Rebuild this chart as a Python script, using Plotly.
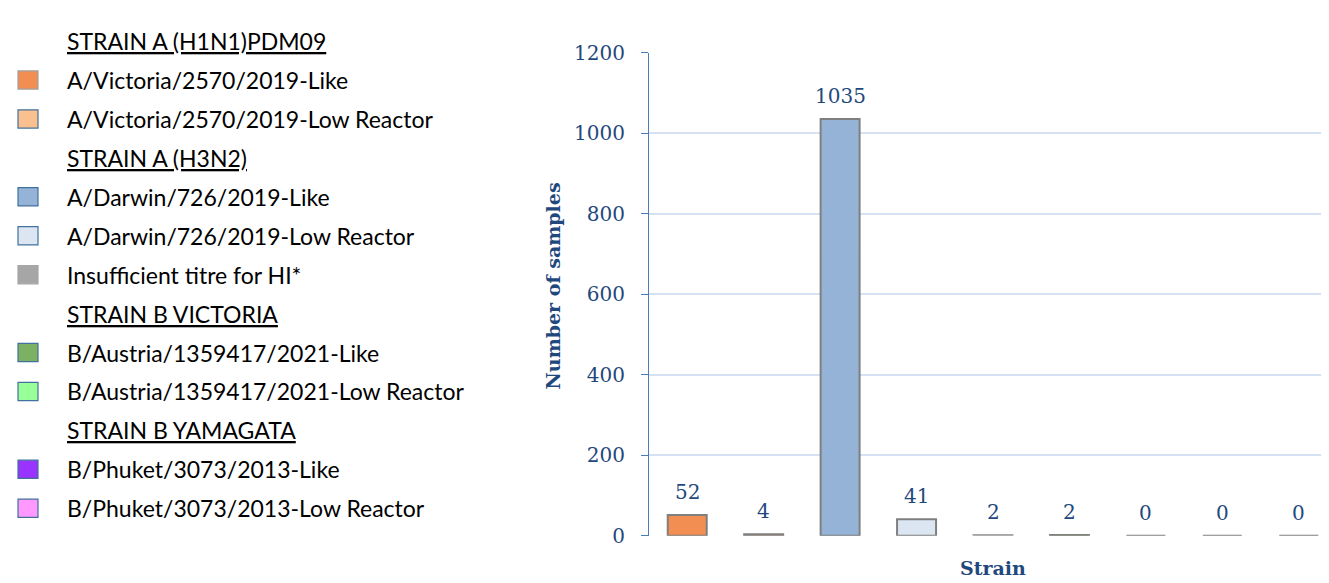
import plotly.graph_objects as go

# ---------------- data ----------------
categories = [
    "A/Victoria/2570/2019-Like",
    "A/Victoria/2570/2019-Low Reactor",
    "A/Darwin/726/2019-Like",
    "A/Darwin/726/2019-Low Reactor",
    "Insufficient titre for HI*",
    "B/Austria/1359417/2021-Like",
    "B/Austria/1359417/2021-Low Reactor",
    "B/Phuket/3073/2013-Like",
    "B/Phuket/3073/2013-Low Reactor",
]
values = [52, 4, 1035, 41, 2, 2, 0, 0, 0]
group_titles = ["STRAIN A (H1N1)PDM09", "STRAIN A (H3N2)", "STRAIN B VICTORIA", "STRAIN B YAMAGATA"]
group_of_category = [0, 0, 1, 1, 1, 2, 2, 3, 3]
y_ticks = [0, 200, 400, 600, 800, 1000, 1200]

# ---------------- styles ----------------
fill_colors = ["#F28E52", "#FAC090", "#95B3D7", "#DCE6F2", "#A6A6A6",
               "#7CB062", "#99FF99", "#9933FF", "#FF99FF"]
bar_line_colors = ["#7F7F7F", "#7F7F7F", "#7F7F7F", "#7F7F7F", "#A6A6A6",
                   "#7F7F7F", "#7F7F7F", "#7F7F7F", "#7F7F7F"]
legend_line_colors = ["#A0A0A0", "#41719C", "#41719C", "#41719C", "#A6A6A6",
                      "#41719C", "#41719C", "#41719C", "#41719C"]

W, H = 1329, 583
PLOT_L, PLOT_R = 641, 1329
PLOT_T, PLOT_B = 34, 538

SERIF = "DejaVu Serif"
SANS = "Lato"
BLUE_TXT = "#1F497D"
AXIS_BLUE = "#4A7EBB"
GRID = "#D5E2F3"

fig = go.Figure()
fig.add_trace(go.Bar(
    x=categories,
    y=values,
    marker=dict(color=fill_colors, line=dict(color=bar_line_colors, width=2)),
    width=0.51,
    showlegend=False,
    hoverinfo="x+y",
))

def px_x(px):
    return px / W

def px_y(py):
    return 1 - py / H

annotations = []
# value labels above the bars (positioned through the data axes)
for cat, v in zip(categories, values):
    annotations.append(dict(
        x=cat, y=v, xref="x", yref="y",
        xanchor="center", yanchor="bottom", showarrow=False,
        yshift=9, text=str(v),
        font=dict(family=SERIF, size=20, color=BLUE_TXT),
    ))

# ---------------- manual legend (left side) ----------------
ROW0 = 22
ROW_H = 40.6
shapes = []
row = 0
last_group = -1
for i, cat in enumerate(categories):
    g = group_of_category[i]
    if g != last_group:
        yc = ROW0 + ROW_H * row
        annotations.append(dict(
            x=px_x(57), y=px_y(yc), xref="paper", yref="paper",
            xanchor="left", yanchor="middle", showarrow=False,
            text="<u>" + group_titles[g] + "</u>",
            font=dict(family=SANS, size=23, color="#000000"),
        ))
        row += 1
        last_group = g
    yc = ROW0 + ROW_H * row
    shapes.append(dict(
        type="rect", xref="paper", yref="paper",
        x0=px_x(10), x1=px_x(30), y0=px_y(yc + 9.5), y1=px_y(yc - 9.5),
        fillcolor=fill_colors[i], line=dict(color=legend_line_colors[i], width=1.2),
    ))
    annotations.append(dict(
        x=px_x(57), y=px_y(yc), xref="paper", yref="paper",
        xanchor="left", yanchor="middle", showarrow=False,
        text=cat, font=dict(family=SANS, size=23, color="#000000"),
    ))
    row += 1

# axis titles
annotations.append(dict(
    x=px_x(545), y=px_y(278), xref="paper", yref="paper",
    xanchor="center", yanchor="middle", showarrow=False, textangle=-90,
    text="<b>Number of samples</b>", font=dict(family=SERIF, size=19, color=BLUE_TXT),
))
annotations.append(dict(
    x=px_x((PLOT_L + PLOT_R) / 2), y=px_y(572), xref="paper", yref="paper",
    xanchor="center", yanchor="middle", showarrow=False,
    text="<b>Strain</b>", font=dict(family=SERIF, size=19, color=BLUE_TXT),
))

fig.update_layout(
    width=W, height=H,
    margin=dict(l=0, r=0, t=0, b=0),
    paper_bgcolor="white", plot_bgcolor="white",
    xaxis=dict(
        domain=[PLOT_L / W, PLOT_R / W],
        range=[-0.5, len(categories) - 0.5],
        showticklabels=False, showgrid=False, zeroline=False, showline=False,
        ticks="",
    ),
    yaxis=dict(
        domain=[1 - PLOT_B / H, 1 - PLOT_T / H],
        range=[0, 1200],
        tickvals=y_ticks,
        ticktext=[str(t) for t in y_ticks],
        tickfont=dict(family=SERIF, size=20, color=BLUE_TXT),
        showgrid=True, gridcolor=GRID, gridwidth=2,
        zeroline=False,
        showline=True, linecolor=AXIS_BLUE, linewidth=1,
        ticks="outside", ticklen=7, tickcolor=AXIS_BLUE, tickwidth=1,
        ticklabelstandoff=12,
    ),
    shapes=shapes,
    annotations=annotations,
    showlegend=False,
)

fig.write_html("out.html")
